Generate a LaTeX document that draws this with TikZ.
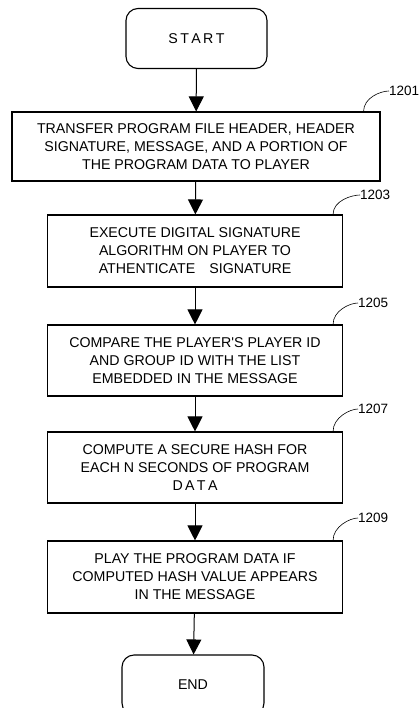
\documentclass[tikz,border=0pt]{standalone}
\usepackage{fontspec}
\setmainfont{Liberation Sans}
\usetikzlibrary{arrows.meta}

\begin{document}
\begin{tikzpicture}[x=1pt,y=-1pt,
	stepbox/.style={draw,line width=1.1pt,align=center,inner sep=0pt,font=\fontsize{14.2}{18}\selectfont},
	termbox/.style={stepbox,rounded corners=12pt,minimum width=141pt,minimum height=60pt},
	flow/.style={-{Triangle[width=15pt,length=15pt]},line width=1pt},
	lead/.style={line width=0.6pt},
	tag/.style={anchor=west,inner sep=0pt,font=\fontsize{13.5}{13.5}\selectfont}]
	\useasboundingbox (0,0) rectangle (418,708);

	\node[termbox] (start) at (196.5,38.5) {S\,T\,A\,R\,T};
	\node[stepbox,minimum width=368pt,minimum height=69pt] (b1) at (196,146.5)
		{TRANSFER PROGRAM FILE HEADER, HEADER\\SIGNATURE, MESSAGE, AND A PORTION OF\\THE PROGRAM DATA TO PLAYER};
	\node[stepbox,minimum width=295pt,minimum height=72pt] (b2) at (195,251)
		{EXECUTE DIGITAL SIGNATURE\\ALGORITHM ON PLAYER TO\\ATHENTICATE\quad SIGNATURE};
	\node[stepbox,minimum width=295pt,minimum height=71pt] (b3) at (195,360.5)
		{COMPARE THE PLAYER\textquotesingle S PLAYER ID\\AND GROUP ID WITH THE LIST\\EMBEDDED IN THE MESSAGE};
	\node[stepbox,minimum width=295pt,minimum height=71pt] (b4) at (195,467.5)
		{COMPUTE A SECURE HASH FOR\\EACH N SECONDS OF PROGRAM\\D\,A\,T\,A};
	\node[stepbox,minimum width=295pt,minimum height=72pt] (b5) at (195,577)
		{PLAY THE PROGRAM DATA IF\\COMPUTED HASH VALUE APPEARS\\IN THE MESSAGE};
	\node[termbox,minimum width=142pt] (end) at (193,685) {END};

	\draw[flow] (start) -- (b1);
	\draw[flow] (b1) -- (b2);
	\draw[flow] (b2) -- (b3);
	\draw[flow] (b3) -- (b4);
	\draw[flow] (b4) -- (b5);
	\draw[flow] (b5) -- (end);

	\node[tag] (t1) at (389,91) {1201};
	\node[tag] (t2) at (360,195) {1203};
	\node[tag] (t3) at (358,303) {1205};
	\node[tag] (t4) at (358,409) {1207};
	\node[tag] (t5) at (358,518) {1209};
	\draw[lead] ([xshift=-17pt]b1.north east) .. controls +(0,-14) and +(-8,0) .. (t1.west);
	\draw[lead] ([xshift=-10pt]b2.north east) .. controls +(0,-14) and +(-8,0) .. (t2.west);
	\draw[lead] ([xshift=-10pt]b3.north east) .. controls +(0,-14) and +(-8,0) .. (t3.west);
	\draw[lead] ([xshift=-10pt]b4.north east) .. controls +(0,-14) and +(-8,0) .. (t4.west);
	\draw[lead] ([xshift=-10pt]b5.north east) .. controls +(0,-14) and +(-8,0) .. (t5.west);
\end{tikzpicture}
\end{document}
